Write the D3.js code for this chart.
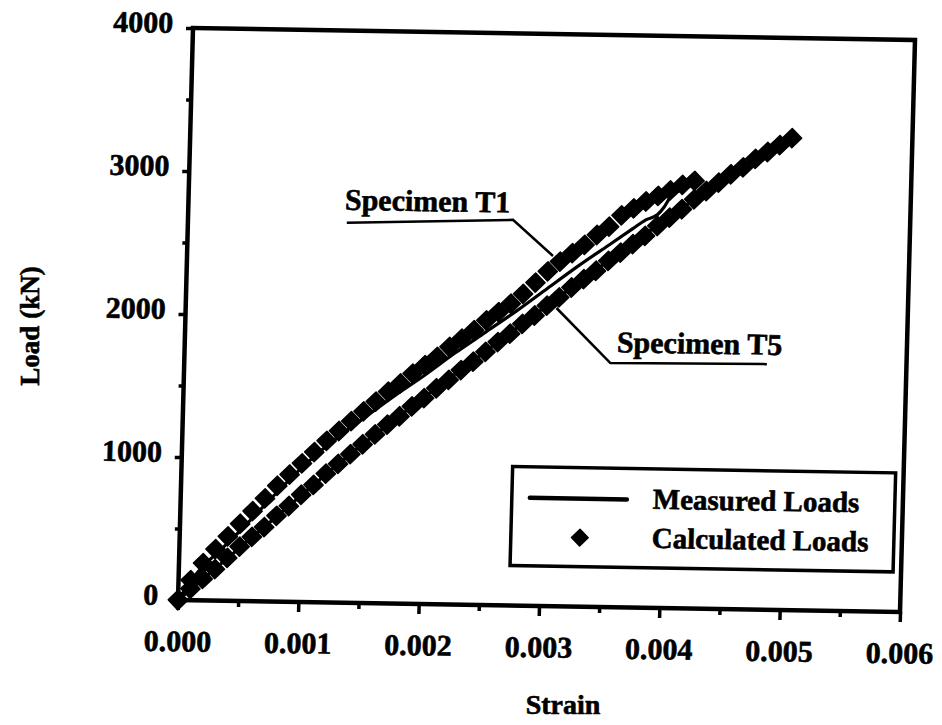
<!DOCTYPE html>
<html><head><meta charset="utf-8">
<script src="https://cdn.jsdelivr.net/npm/d3@7"></script>
<style>body{margin:0;background:#fff}svg{display:block}</style>
</head><body>
<svg id="chart" width="942" height="725"></svg>
<script>
// ---- axis ticks ----
const xTicks = [0, 0.001, 0.002, 0.003, 0.004, 0.005, 0.006];
const xTickLabels = ["0.000", "0.001", "0.002", "0.003", "0.004", "0.005", "0.006"];
const xMinorTicks = [0.0005, 0.0015, 0.0025, 0.0035, 0.0045, 0.0055];
const yTicks = [0, 1000, 2000, 3000, 4000];
const yTickLabels = ["0", "1000", "2000", "3000", "4000"];
const yMinorTicks = [500, 1500, 2500, 3500];

// ---- Specimen T1 ----
const t1MeasStrain = [0, 0.0001, 0.0002, 0.0003, 0.0005, 0.00075, 0.001, 0.00125, 0.0015, 0.00175, 0.002, 0.00225, 0.0025, 0.00275, 0.003, 0.00325, 0.0035, 0.0037, 0.0038, 0.0039, 0.00395, 0.004, 0.0041];
const t1MeasLoad   = [0, 130, 240, 320, 490, 720, 940, 1130, 1290, 1450, 1600, 1760, 1910, 2060, 2220, 2380, 2530, 2650, 2710, 2750, 2800, 2870, 2930];
const t1CalcStrain = [0, 0.0001, 0.0002, 0.0003, 0.0004, 0.0005, 0.0006, 0.0007, 0.0008, 0.0009, 0.0010, 0.0011, 0.0012, 0.0013, 0.0014, 0.0015, 0.0016, 0.0017, 0.0018, 0.0019, 0.0020, 0.0021, 0.0022, 0.0023, 0.0024, 0.0025, 0.0026, 0.0027, 0.0028, 0.0029, 0.0030, 0.0031, 0.0032, 0.0033, 0.0034, 0.0035, 0.0036, 0.0037, 0.0038, 0.0039, 0.0040, 0.0041, 0.0042];
const t1CalcLoad   = [0, 140, 260, 360, 450, 540, 630, 720, 810, 890, 970, 1050, 1130, 1200, 1270, 1340, 1410, 1480, 1540, 1610, 1670, 1730, 1800, 1860, 1920, 1990, 2050, 2110, 2180, 2260, 2340, 2410, 2470, 2530, 2600, 2660, 2740, 2790, 2840, 2880, 2920, 2960, 2990];

// ---- Specimen T5 ----
const t5MeasStrain = [0, 0.0005, 0.001, 0.0015, 0.002, 0.0025, 0.003, 0.0035, 0.004, 0.0045, 0.005];
const t5MeasLoad   = [0, 370, 745, 1110, 1445, 1775, 2100, 2420, 2735, 3040, 3300];
const t5CalcStrain = [0, 0.0001, 0.0002, 0.0003, 0.0004, 0.0005, 0.0006, 0.0007, 0.0008, 0.0009, 0.0010, 0.0011, 0.0012, 0.0013, 0.0014, 0.0015, 0.0016, 0.0017, 0.0018, 0.0019, 0.0020, 0.0021, 0.0022, 0.0023, 0.0024, 0.0025, 0.0026, 0.0027, 0.0028, 0.0029, 0.0030, 0.0031, 0.0032, 0.0033, 0.0034, 0.0035, 0.0036, 0.0037, 0.0038, 0.0039, 0.0040, 0.0041, 0.0042, 0.0043, 0.0044, 0.0045, 0.0046, 0.0047, 0.0048, 0.0049, 0.0050];
const t5CalcLoad   = [0, 80, 150, 220, 300, 380, 450, 520, 600, 670, 750, 820, 900, 970, 1040, 1110, 1180, 1250, 1310, 1380, 1440, 1510, 1570, 1640, 1700, 1770, 1840, 1900, 1970, 2030, 2100, 2160, 2230, 2290, 2350, 2420, 2480, 2540, 2600, 2670, 2730, 2790, 2860, 2920, 2980, 3040, 3090, 3150, 3200, 3250, 3300];

// ---- annotations (data coordinates) ----
const annT1 = {label: "Specimen T1", text: [0.0013, 2747], path: [[0.00132, 2656], [0.0027, 2696], [0.00304, 2448]]};
const annT5 = {label: "Specimen T5", text: [0.00359, 1783], path: [[0.00308, 2085], [0.00354, 1706], [0.00484, 1717]]};
const legendItems = ["Measured Loads", "Calculated Loads"];

const FONT = "'Liberation Serif', 'Times New Roman', serif";
const W = 722, H = 572;
const svg = d3.select("#chart");
// the scanned plot is slightly skewed; reproduce with an affine transform
const g = svg.append("g").attr("transform", "matrix(1,0.0166,-0.0262,1,193,28)");

const x = d3.scaleLinear().domain([0, 0.006]).range([0, W]);
const y = d3.scaleLinear().domain([0, 4000]).range([H, 0]);

function heavy(sel, size) {
  sel.attr("font-family", FONT).attr("font-weight", "bold").attr("font-size", size)
    .attr("fill", "#000").attr("stroke", "#000").attr("stroke-width", 0.6);
}

// minor ticks
g.append("g").attr("transform", `translate(0,${H})`)
  .call(d3.axisBottom(x).tickValues(xMinorTicks).tickSize(6).tickFormat(""))
  .call(a => a.select(".domain").remove());
g.append("g")
  .call(d3.axisLeft(y).tickValues(yMinorTicks).tickSize(5).tickFormat(""))
  .call(a => a.select(".domain").remove());
// major ticks
const xa = g.append("g").attr("transform", `translate(0,${H})`)
  .call(d3.axisBottom(x).tickValues(xTicks).tickSize(10).tickPadding(20).tickFormat((d, i) => xTickLabels[i]));
const ya = g.append("g")
  .call(d3.axisLeft(y).tickValues(yTicks).tickSize(7).tickPadding(13).tickFormat((d, i) => yTickLabels[i]));
[xa, ya].forEach(a => {
  a.select(".domain").remove();
  heavy(a.selectAll("text"), 30);
});
ya.selectAll("text").attr("dy", "0.15em");
g.selectAll(".tick line").attr("stroke", "#000").attr("stroke-width", 3.5);

// frame
g.append("rect").attr("x", 0).attr("y", 0).attr("width", W).attr("height", H)
  .attr("fill", "none").attr("stroke", "#000").attr("stroke-width", 4.5);

const line = d3.line().x(d => x(d[0])).y(d => y(d[1])).curve(d3.curveMonotoneX);
const diamond = d3.symbol().type(d3.symbolSquare).size(185);
const legendDiamond = d3.symbol().type(d3.symbolSquare).size(140);

function drawSeries(ms, ml, cs, cl) {
  g.append("g").selectAll("path").data(cs.map((s, i) => [s, cl[i]])).join("path")
    .attr("d", diamond)
    .attr("transform", d => `translate(${x(d[0])},${y(d[1])}) rotate(45)`)
    .attr("fill", "#000").attr("stroke", "#000").attr("stroke-width", 1.5).attr("stroke-linejoin", "round");
  g.append("path").datum(ms.map((s, i) => [s, ml[i]]))
    .attr("d", line).attr("fill", "none").attr("stroke", "#000").attr("stroke-width", 3.2);
}
drawSeries(t5MeasStrain, t5MeasLoad, t5CalcStrain, t5CalcLoad);
drawSeries(t1MeasStrain, t1MeasLoad, t1CalcStrain, t1CalcLoad);

// annotations
[annT1, annT5].forEach(a => {
  g.append("path").attr("d", d3.line().x(d => x(d[0])).y(d => y(d[1])).curve(d3.curveLinear)(a.path))
    .attr("fill", "none").attr("stroke", "#000").attr("stroke-width", 2.5);
  heavy(g.append("text").attr("x", x(a.text[0])).attr("y", y(a.text[1])).text(a.label), 30);
});

// legend
const lg = g.append("g").attr("transform", "translate(331,433)");
lg.append("rect").attr("width", 383).attr("height", 99).attr("fill", "#fff")
  .attr("stroke", "#000").attr("stroke-width", 3.5);
lg.append("line").attr("x1", 18).attr("x2", 115).attr("y1", 31).attr("y2", 31)
  .attr("stroke", "#000").attr("stroke-width", 4.5).attr("stroke-linecap", "round");
lg.append("path").attr("d", legendDiamond).attr("transform", "translate(69,70) rotate(45)")
  .attr("fill", "#000").attr("stroke", "#000").attr("stroke-width", 1.5).attr("stroke-linejoin", "round");
heavy(lg.selectAll("text.lt").data(legendItems).join("text").attr("class", "lt")
  .attr("x", 141).attr("y", (d, i) => 40 + i * 39).text(d => d), 29);

// axis titles
heavy(svg.append("text").attr("x", 563).attr("y", 714).attr("text-anchor", "middle").text("Strain"), 28);
heavy(svg.append("text").attr("transform", "translate(39,326) rotate(-90)").attr("text-anchor", "middle").text("Load (kN)"), 27);
</script>
</body></html>
